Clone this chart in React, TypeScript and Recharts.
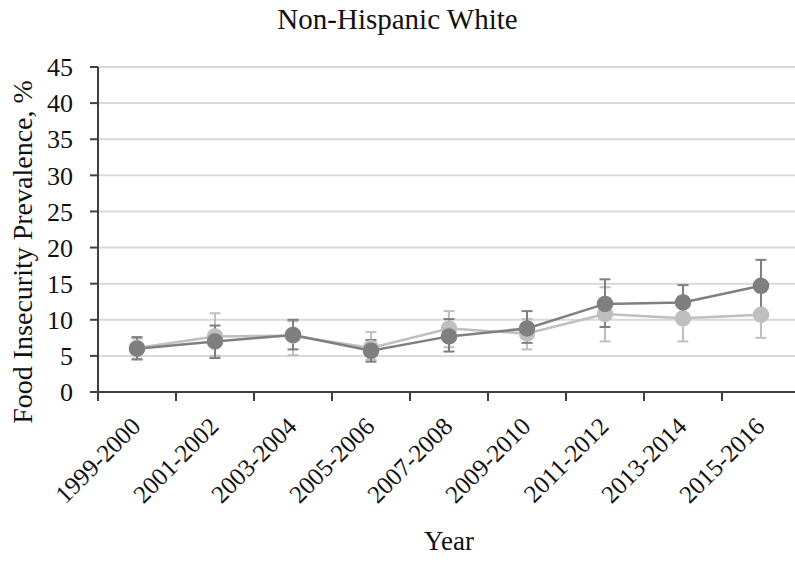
import React from "react";
import { LineChart, Line, XAxis, YAxis, CartesianGrid, ErrorBar } from "recharts";

const categories = ["1999-2000", "2001-2002", "2003-2004", "2005-2006", "2007-2008", "2009-2010", "2011-2012", "2013-2014", "2015-2016"];
const darkValues = [6.0, 7.0, 7.9, 5.7, 7.7, 8.8, 12.2, 12.4, 14.7];
const darkLow = [4.5, 4.7, 5.9, 4.2, 5.6, 6.8, 9.0, 10.3, 11.3];
const darkHigh = [7.6, 9.2, 10.0, 7.2, 10.1, 11.2, 15.6, 14.8, 18.3];
const lightValues = [6.1, 7.7, 7.8, 6.1, 8.8, 8.1, 10.8, 10.2, 10.7];
const lightLow = [4.6, 5.0, 5.1, 4.5, 6.2, 5.9, 7.0, 7.0, 7.5];
const lightHigh = [7.4, 10.9, 9.8, 8.3, 11.2, 10.1, 14.5, 13.2, 13.9];
const yTicks = [0, 5, 10, 15, 20, 25, 30, 35, 40, 45];

const data = categories.map((c, i) => ({
  year: c,
  dark: darkValues[i],
  darkErr: [darkValues[i] - darkLow[i], darkHigh[i] - darkValues[i]],
  light: lightValues[i],
  lightErr: [lightValues[i] - lightLow[i], lightHigh[i] - lightValues[i]],
}));

const DARK = "#7f7f7f";
const LIGHT = "#bfbfbf";
const FONT = "'Liberation Serif', 'Times New Roman', serif";

const XTick = (props: any) => {
  const { x, y, payload } = props;
  const half = payload && payload.offset ? payload.offset : 39;
  return (
    <g>
      <line x1={x - half} y1={y - 8} x2={x - half} y2={y + 1} stroke="#404040" strokeWidth={2} />
      <text
        x={0}
        y={0}
        transform={`translate(${x + 5},${y + 28}) rotate(-45)`}
        textAnchor="end"
        fontSize={25}
        fontFamily={FONT}
        fill="#111"
      >
        {payload.value}
      </text>
    </g>
  );
};

export default function App() {
  return (
    <div style={{ position: "absolute", left: 0, top: 0, width: 795, height: 562, overflow: "hidden", background: "#fff" }}>
      <div style={{ position: "absolute", left: 0, top: 3, width: 795, textAlign: "center", fontFamily: FONT, fontSize: 29, lineHeight: "32px", color: "#111" }}>
        Non-Hispanic White
      </div>
      <div
        style={{
          position: "absolute",
          left: 22.5,
          top: 252,
          transform: "translate(-50%, -50%) rotate(-90deg)",
          whiteSpace: "nowrap",
          fontFamily: FONT,
          fontSize: 28,
          lineHeight: "32px",
          color: "#111",
        }}
      >
        Food Insecurity Prevalence, %
      </div>
      <div style={{ position: "absolute", left: 449, top: 526, transform: "translateX(-50%)", fontFamily: FONT, fontSize: 27, lineHeight: "30px", color: "#111" }}>
        Year
      </div>
      <LineChart width={800} height={562} data={data} margin={{ top: 67, right: 0, left: 0, bottom: 0 }}>
        <CartesianGrid vertical={false} stroke="#d9d9d9" strokeWidth={2} />
        <XAxis
          dataKey="year"
          scale="band"
          height={170}
          interval={0}
          tick={<XTick />}
          tickLine={false}
          axisLine={{ stroke: "#404040", strokeWidth: 2 }}
        />
        <YAxis
          width={98}
          domain={[0, 45]}
          ticks={yTicks}
          interval={0}
          tickSize={8}
          tickMargin={17}
          tick={{ fontSize: 26, fontFamily: FONT, fill: "#111" }}
          tickLine={{ stroke: "#404040", strokeWidth: 2 }}
          axisLine={{ stroke: "#404040", strokeWidth: 2 }}
        />
        <Line
          dataKey="light"
          stroke={LIGHT}
          strokeWidth={2.5}
          dot={{ r: 7, fill: LIGHT, stroke: LIGHT }}
          isAnimationActive={false}
        >
          <ErrorBar dataKey="lightErr" width={5.5} stroke={LIGHT} strokeWidth={2} direction="y" />
        </Line>
        <Line
          dataKey="dark"
          stroke={DARK}
          strokeWidth={2.5}
          dot={{ r: 7, fill: DARK, stroke: DARK }}
          isAnimationActive={false}
        >
          <ErrorBar dataKey="darkErr" width={5.5} stroke={DARK} strokeWidth={2} direction="y" />
        </Line>
      </LineChart>
    </div>
  );
}
